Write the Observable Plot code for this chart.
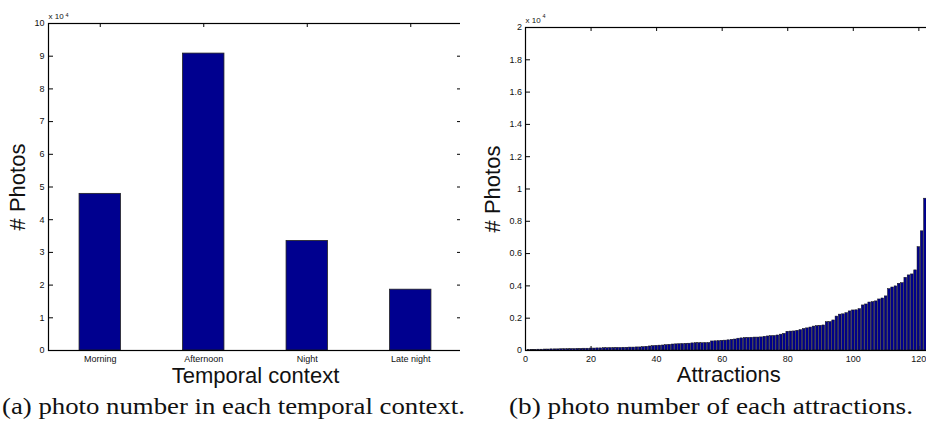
<!DOCTYPE html>
<html>
<head>
<meta charset="utf-8">
<script src="https://cdn.jsdelivr.net/npm/d3@7"></script>
<script src="https://cdn.jsdelivr.net/npm/@observablehq/plot@0.6"></script>
<style>
  html, body { margin: 0; padding: 0; background: white; overflow: hidden; width: 926px; height: 421px; }
  #wrap { position: relative; width: 926px; height: 421px; overflow: hidden; }
  .panel { position: absolute; top: 0; }
  .panel svg { max-width: none !important; display: block; }
  .cap { position: absolute; white-space: nowrap; font-family: "Liberation Serif", "DejaVu Serif", serif; font-size: 23px; color: #111; transform-origin: 0 0; line-height: 1; }
</style>
</head>
<body>
<div id="wrap">
  <div class="panel" id="pa" style="left:0px"></div>
  <div class="panel" id="pb" style="left:460px"></div>
  <div class="cap" id="capA" data-left="2" data-width="463" style="top:395px">(a) photo number in each temporal context.</div>
  <div class="cap" id="capB" data-left="509" data-width="404" style="top:395px">(b) photo number of each attractions.</div>
</div>
<script>
// ---------- data ----------
const categories = ["Morning", "Afternoon", "Night", "Late night"];
const categoryPhotos = [47900, 90800, 33500, 18600];
const yTicksA = [0, 10000, 20000, 30000, 40000, 50000, 60000, 70000, 80000, 90000, 100000];

const attractionPhotos = [
  30, 40, 40, 50, 50, 60, 60, 70, 70, 70,
  80, 80, 80, 90, 90, 100, 100, 110, 110, 120,
  120, 130, 130, 140, 140, 150, 150, 160, 160, 170,
  170, 180, 180, 190, 190, 210, 230, 250, 270, 290,
  300, 310, 330, 350, 370, 380, 390, 400, 410, 420,
  440, 450, 450, 450, 460, 460, 560, 570, 580, 600,
  610, 630, 660, 680, 730, 750, 770, 780, 790, 800,
  800, 810, 850, 870, 890, 900, 930, 980, 1030, 1160,
  1170, 1180, 1220, 1260, 1330, 1370, 1420, 1480, 1510, 1530,
  1550, 1750, 1760, 1860, 2100, 2220, 2240, 2310, 2420, 2480,
  2490, 2560, 2790, 2850, 2970, 2990, 3040, 3160, 3220, 3350,
  3800, 3900, 3970, 4130, 4170, 4500, 4650, 4710, 4960, 6400,
  7380, 9400
];
const xTicksB = [0, 20, 40, 60, 80, 100, 120];
const yTicksB = [0, 2000, 4000, 6000, 8000, 10000, 12000, 14000, 16000, 18000, 20000];

// ---------- shared ----------
const barFill = "#00008F";
const fmt = d => String(+(d / 1e4).toFixed(1));
const H = 392, frameBottom = 350;
const sans = "Liberation Sans, Arial, Helvetica, sans-serif";

// ---------- panel (a) ----------
const tableA = categories.map((c, i) => ({i: i + 1, c, v: categoryPhotos[i]}));
const A = {width: 470, left: 48, right: 8, top: 23};
const fwA = A.width - A.left - A.right, fhA = frameBottom - A.top;
const plotA = Plot.plot({
  width: A.width, height: H,
  marginLeft: A.left, marginRight: A.right, marginTop: A.top, marginBottom: H - frameBottom,
  x: {domain: [0.5, 4.5]},
  y: {domain: [0, 100000]},
  style: {fontFamily: sans, fontSize: "9px", color: "#111", background: "white", overflow: "visible"},
  marks: [
    Plot.tickY(yTicksA, {y: d => d, insetRight: fwA - 5, stroke: "black"}),
    Plot.tickY(yTicksA, {y: d => d, insetLeft: fwA - 5, stroke: "black"}),
    Plot.tickX([1, 2, 3, 4], {x: d => d, insetBottom: fhA - 4, stroke: "black"}),
    Plot.tickX([1, 2, 3, 4], {x: d => d, insetTop: fhA - 4, stroke: "black"}),
    Plot.rect(tableA, {x1: d => d.i - 0.2, x2: d => d.i + 0.2, y1: 0, y2: "v", fill: barFill, stroke: "#222", strokeWidth: 0.8}),
    Plot.axisX({ticks: [1, 2, 3, 4], tickFormat: i => categories[i - 1], tickSize: 0, tickPadding: 5, label: null}),
    Plot.axisY({ticks: yTicksA, tickFormat: fmt, tickSize: 0, tickPadding: 4, label: null}),
    Plot.text(["x 10"], {text: d => d, frameAnchor: "top-left", textAnchor: "start", lineAnchor: "bottom", dy: -4.5, fontSize: 8}),
    Plot.text(["4"], {text: d => d, frameAnchor: "top-left", textAnchor: "start", lineAnchor: "bottom", dx: 17, dy: -7, fontSize: 5.5}),
    Plot.text(["# Photos"], {text: d => d, frameAnchor: "left", rotate: -90, textAnchor: "middle", lineAnchor: "bottom", dx: -24, fontSize: 22}),
    Plot.text(["Temporal context"], {text: d => d, frameAnchor: "bottom", textAnchor: "middle", lineAnchor: "bottom", dy: 32, fontSize: 22}),
    Plot.frame({stroke: "black", strokeWidth: 1.2})
  ]
});
document.getElementById("pa").appendChild(plotA);

// ---------- panel (b) ----------
const tableB = attractionPhotos.map((v, k) => ({i: k + 1, v}));
const B = {left: 65, right: 6, top: 27};
const pxPerUnit = 3.278, xMaxB = 124;
const fwB = xMaxB * pxPerUnit;
const B_width = B.left + fwB + B.right;
const fhB = frameBottom - B.top;
const plotB = Plot.plot({
  width: B_width, height: H,
  marginLeft: B.left, marginRight: B.right, marginTop: B.top, marginBottom: H - frameBottom,
  x: {domain: [0, xMaxB]},
  y: {domain: [0, 20000]},
  style: {fontFamily: sans, fontSize: "9px", color: "#111", background: "white", overflow: "visible"},
  marks: [
    Plot.tickY(yTicksB, {y: d => d, insetRight: fwB - 5, stroke: "black"}),
    Plot.tickY(yTicksB, {y: d => d, insetLeft: fwB - 5, stroke: "black"}),
    Plot.tickX(xTicksB, {x: d => d, insetBottom: fhB - 4, stroke: "black"}),
    Plot.tickX(xTicksB, {x: d => d, insetTop: fhB - 4, stroke: "black"}),
    Plot.rect(tableB, {x1: d => d.i - 0.4, x2: d => d.i + 0.4, y1: 0, y2: "v", fill: barFill, stroke: "#111", strokeWidth: 0.5}),
    Plot.axisX({ticks: xTicksB, tickFormat: d => String(d), tickSize: 0, tickPadding: 5, label: null}),
    Plot.axisY({ticks: yTicksB, tickFormat: fmt, tickSize: 0, tickPadding: 3.5, label: null}),
    Plot.text(["x 10"], {text: d => d, frameAnchor: "top-left", textAnchor: "start", lineAnchor: "bottom", dy: -4, fontSize: 8}),
    Plot.text(["4"], {text: d => d, frameAnchor: "top-left", textAnchor: "start", lineAnchor: "bottom", dx: 17, dy: -9.5, fontSize: 5.5}),
    Plot.text(["# Photos"], {text: d => d, frameAnchor: "left", rotate: -90, textAnchor: "middle", lineAnchor: "bottom", dx: -25.5, fontSize: 22}),
    Plot.text(["Attractions"], {text: d => d, frameAnchor: "bottom", textAnchor: "middle", lineAnchor: "bottom", dy: 32, fontSize: 22}),
    Plot.frame({stroke: "black", strokeWidth: 1.2})
  ]
});
document.getElementById("pb").appendChild(plotB);

// ---------- captions: fit width like the reference ----------
for (const id of ["capA", "capB"]) {
  const el = document.getElementById(id);
  el.style.left = el.dataset.left + "px";
  const w = el.getBoundingClientRect().width;
  el.style.transform = `scaleX(${(+el.dataset.width) / w})`;
}
</script>
</body>
</html>
